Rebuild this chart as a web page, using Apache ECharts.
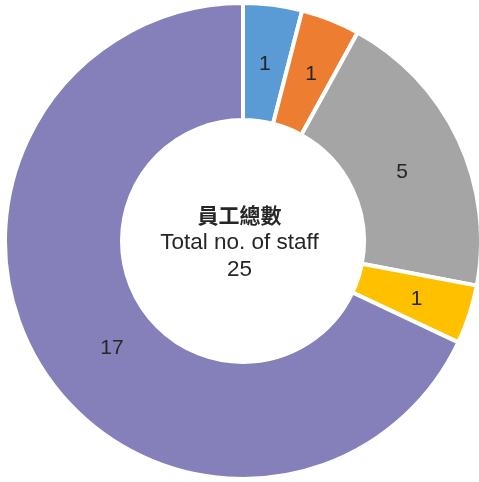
<!DOCTYPE html>
<html>
<head>
<meta charset="utf-8">
<script src="https://cdn.jsdelivr.net/npm/echarts@6/dist/echarts.min.js"></script>
<style>
  html, body { margin: 0; padding: 0; background: #fff; }
  #chart { width: 479px; height: 482px; }
</style>
</head>
<body>
<div id="chart"></div>
<script>
// staff counts per slice, clockwise from 12 o'clock
const categories = ['A', 'B', 'C', 'D', 'E']
const values = [1, 1, 5, 1, 17]
const colors = ['#5B9BD5', '#ED7D31', '#A5A5A5', '#FFC000', '#8680BA']
const centerTitle = '員工總數'
const centerSub = 'Total no. of staff'
const total = values.reduce((a, b) => a + b, 0)

// nudges so the inside labels sit where the original put them
const labelNudge = [[-1, 4], [1, 3], [-6, 9], [0, 2], [23, 9]]

const chart = echarts.init(document.getElementById('chart'))

chart.setOption({
  backgroundColor: '#FFFFFF',
  animation: false,
  graphic: [{
    type: 'text',
    left: 'center',
    top: 205,
    style: {
      text: '{t|' + centerTitle + '}\n{s|' + centerSub + '}\n{s|' + total + '}',
      textAlign: 'center',
      fill: '#262626',
      rich: {
        t: {
          fontFamily: 'Noto Sans CJK TC, sans-serif',
          fontWeight: 'bold',
          fontSize: 21,
          lineHeight: 27,
          fill: '#262626'
        },
        s: {
          fontFamily: 'Liberation Sans, Arial, sans-serif',
          fontSize: 22.5,
          lineHeight: 27,
          fill: '#262626'
        }
      }
    }
  }],
  series: [{
    type: 'pie',
    center: [243, 241],
    radius: [121, 238],
    startAngle: 90,
    clockwise: true,
    color: colors,
    itemStyle: {
      borderColor: '#FFFFFF',
      borderWidth: 4
    },
    label: {
      position: 'inside',
      formatter: '{c}',
      color: '#262626',
      fontSize: 21,
      fontFamily: 'Liberation Sans, Arial, sans-serif'
    },
    labelLayout: function (params) {
      const n = labelNudge[params.dataIndex]
      return { dx: n[0], dy: n[1] }
    },
    labelLine: { show: false },
    emphasis: { disabled: true },
    data: categories.map((name, i) => ({ name: name, value: values[i] }))
  }]
})
</script>
</body>
</html>
